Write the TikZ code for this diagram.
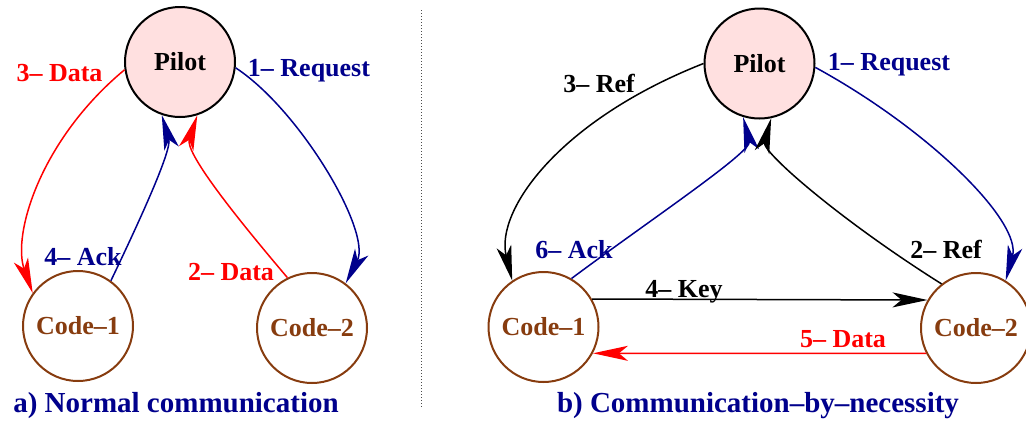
\documentclass[tikz,border=0pt]{standalone}
\usepackage{fontspec}
\setmainfont{Liberation Serif}
\usetikzlibrary{arrows.meta}
\definecolor{navy}{RGB}{0,0,140}
\definecolor{brownc}{RGB}{135,60,15}
\definecolor{pinkf}{RGB}{255,224,224}
\tikzset{
  pilotnode/.style={circle,draw=black,fill=pinkf,line width=2pt,minimum size=110pt,inner sep=0pt,font=\fontsize{26}{30}\selectfont\bfseries},
  codenode/.style={circle,draw=brownc,line width=2pt,minimum size=110pt,inner sep=0pt,text=brownc,font=\fontsize{26}{30}\selectfont\bfseries},
  lbl/.style={anchor=base,inner sep=0pt,font=\fontsize{26}{30}\selectfont\bfseries},
  ttl/.style={anchor=base,inner sep=0pt,text=navy,font=\fontsize{29}{34}\selectfont\bfseries},
  conn/.style={line width=1.5pt,-{Stealth[length=35pt,width=15pt,inset=9pt]}}
}
\begin{document}
\begin{tikzpicture}[x=1pt,y=-1pt]
\useasboundingbox (0,0) rectangle (1026,424);
% divider
\draw[dotted,line width=1pt,black!70] (421,10) -- (421,408);
% ---------- left panel ----------
\node[pilotnode] (p1) at (180,62) {Pilot};
\node[codenode] (c1) at (78,326) {Code--1};
\node[codenode] (c2) at (312,328) {Code--2};
\draw[conn,red] (p1.188) .. controls (40,140) and (12,235) .. (c1.144);
\draw[conn,navy] (p1.354) .. controls (300,110) and (372,232) .. (c2.53);
\draw[conn,navy] (c1.54) .. controls (140,220) and (172,150) .. (p1.251);
\draw[conn,red] (c2.116) .. controls (230,210) and (185,152) .. (p1.288);
\node[lbl,text=red] (l3d) at (59.5,81) {3-- Data};
\node[lbl,text=navy] (l1r) at (309,76) {1-- Request};
\node[lbl,text=navy] (l4a) at (83,265) {4-- Ack};
\node[lbl,text=red] (l2d) at (231,280) {2-- Data};
\node[ttl] (ta) at (176,412) {a) Normal communication};
% ---------- right panel ----------
\node[pilotnode] (p2) at (759.5,63.5) {Pilot};
\node[codenode] (c3) at (543.5,327) {Code--1};
\node[codenode] (c4) at (976,328) {Code--2};
\draw[conn,black] (p2.180) .. controls (560,120) and (495,210) .. (c3.124);
\draw[conn,navy] (c3.60) .. controls (650,220) and (752,152) .. (p2.253);
\draw[conn,black] (c4.128) .. controls (840,220) and (762,152) .. (p2.282);
\draw[conn,navy] (p2.356) .. controls (930,130) and (1022,222) .. (c4.58);
\draw[conn,black] (c3.30) -- (c4.150);
\draw[conn,red] (c4.207) -- (c3.332);
\node[lbl,text=black] (l3r) at (599,92.5) {3-- Ref};
\node[lbl,text=navy] (l6a) at (574,258) {6-- Ack};
\node[lbl,text=black] (l4k) at (684,297) {4-- Key};
\node[lbl,text=navy] (l1rb) at (889,70) {1-- Request};
\node[lbl,text=black] (l2r) at (946,258) {2-- Ref};
\node[lbl,text=red] (l5d) at (843,347) {5-- Data};
\node[ttl] (tb) at (758,412) {b) Communication--by--necessity};
\end{tikzpicture}
\end{document}
